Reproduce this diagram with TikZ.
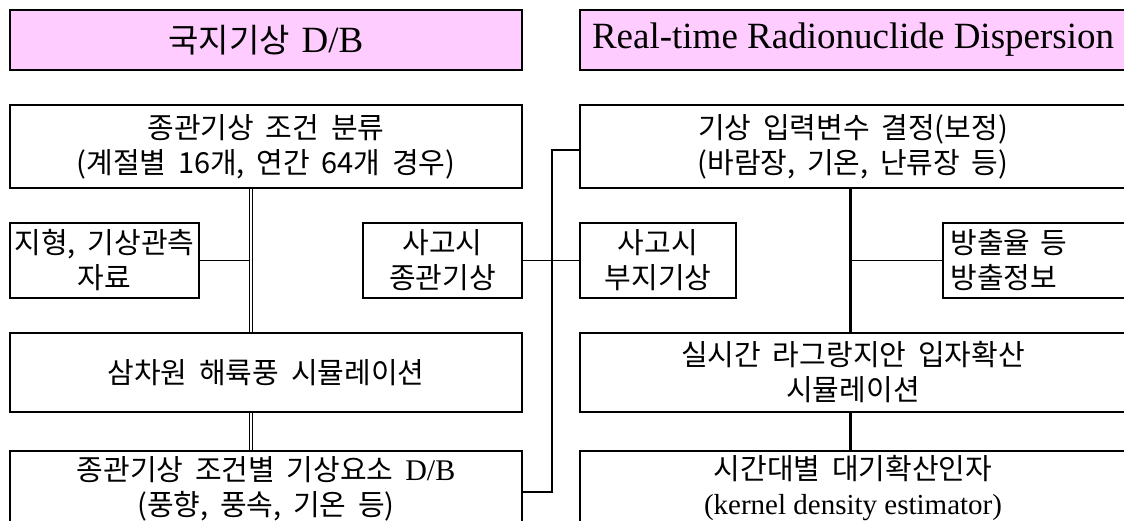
\documentclass[tikz,border=0pt]{standalone}
\usepackage{fontspec}
\setmainfont{Liberation Serif}
\newfontfamily\kr[WordSpace=1.8]{Noto Sans CJK KR}
\usetikzlibrary{backgrounds}
\definecolor{hdrpink}{RGB}{255,204,255}
\begin{document}
\begin{tikzpicture}[x=1pt,y=-1pt,
  box/.style={draw=black, line width=2pt, fill=white, inner sep=0pt, align=center,
    font=\kr\fontsize{29}{35}\selectfont},
  hdr/.style={box, fill=hdrpink},
  conn/.style={line width=1.6pt},
  heavy/.style={line width=3.5pt},
  dbl/.style={double, line width=1.2pt, double distance=1.8pt}
]
\useasboundingbox (0,0) rectangle (1124,521);
\clip (0,0) rectangle (1124,521);
% headers
\node[hdr, minimum width=512pt, minimum height=60pt] (hL) at (266,40)
  {{\fontsize{33}{36}\selectfont 국지기상} {\rmfamily\fontsize{37}{40}\selectfont D/B}};
\node[hdr, minimum width=546pt, minimum height=60pt, font=\rmfamily\fontsize{37}{40}\selectfont] (hR) at (853,40)
  {Real-time Radionuclide Dispersion};
% row 1
\node[box, minimum width=512pt, minimum height=83pt] (A) at (266,146.5)
  {종관기상 조건 분류\\(계절별 16개, 연간 64개 경우)};
\node[box, minimum width=546pt, minimum height=83pt] (B) at (853,146.5)
  {기상 입력변수 결정(보정)\\(바람장, 기온, 난류장 등)};
% row 2
\node[box, minimum width=189pt, minimum height=75pt] (topo) at (104.5,260.5)
  {지형, 기상관측\\자료};
\node[box, minimum width=159pt, minimum height=75pt] (acc1) at (442.5,260.5)
  {사고시\\종관기상};
\node[box, minimum width=156pt, minimum height=75pt] (acc2) at (658,260.5)
  {사고시\\부지기상};
\node[box, minimum width=183pt, minimum height=75pt, text width=168pt, align=left] (rel) at (1034.5,260.5)
  {방출율 등\\방출정보};
% row 3
\node[box, minimum width=512pt, minimum height=79pt] (sim) at (266,372.5)
  {삼차원 해륙풍 시뮬레이션};
\node[box, minimum width=546pt, minimum height=79pt] (lag) at (853,372.5)
  {실시간 라그랑지안 입자확산\\시뮬레이션};
% row 4
\node[box, minimum width=512pt, minimum height=75pt] (D) at (266,488.5)
  {종관기상 조건별 기상요소 {\rmfamily\fontsize{30}{35}\selectfont D/B}\\(풍향, 풍속, 기온 등)};
\node[box, minimum width=546pt, minimum height=75pt] (T) at (853,488.5)
  {시간대별 대기확산인자\\{\rmfamily\fontsize{29}{35}\selectfont (kernel density estimator)}};
% connectors
\coordinate (dl) at (251.2,0);
\coordinate (dlin) at (250,0);
\coordinate (rv) at (850.5,0);
\coordinate (j1) at (552,150);
\coordinate (j2) at (552,492);
\begin{scope}[on background layer]
  \draw[conn] (topo.east) -- (topo.east -| dlin);
  \draw[dbl] (A.south -| dl) -- (sim.north -| dl);
  \draw[dbl] (sim.south -| dl) -- (D.north -| dl);
  \draw[conn] (acc1.east) -- (acc2.west);
  \draw[conn] (B.west |- j1) -- (j1) -- (j2) -- (D.east |- j2);
  \draw[heavy] (B.south -| rv) -- (lag.north -| rv);
  \draw[heavy] (lag.south -| rv) -- (T.north -| rv);
  \draw[conn] (rel.west) -- (rel.west -| rv);
\end{scope}
\end{tikzpicture}
\end{document}
